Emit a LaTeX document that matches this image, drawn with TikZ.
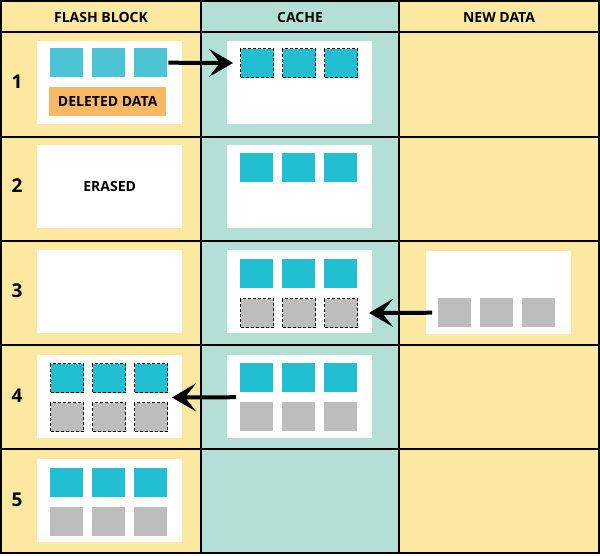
\documentclass[tikz,border=0pt]{standalone}
\usepackage{fontspec}
\setmainfont{Open Sans}
\usetikzlibrary{arrows.meta,positioning,calc}
\definecolor{flashbg}{HTML}{FCE8A0}
\definecolor{cachebg}{HTML}{B3DFD7}
\definecolor{oldblue}{HTML}{4DC3D6}
\definecolor{datablue}{HTML}{22BFD3}
\definecolor{datagray}{HTML}{BDBDBE}
\definecolor{delorange}{HTML}{F9B866}

\begin{document}
\begin{tikzpicture}[x=1pt,y=-1pt,
		block/.style={fill=white,anchor=north west,minimum width=145pt,minimum height=83pt,inner sep=0pt},
		sq/.style={anchor=north west,minimum width=33pt,minimum height=29pt,inner sep=0pt},
		bsq/.style={sq,fill=datablue},
		osq/.style={sq,fill=oldblue},
		gsq/.style={sq,fill=datagray},
		dsq/.style={draw=black,line width=1pt,dash pattern=on 3pt off 2pt},
		head/.style={font=\bfseries\fontsize{14}{16}\selectfont},
		num/.style={font=\bfseries\fontsize{19}{21}\selectfont},
		grid/.style={line width=2.5pt},
		arr/.style={line width=4pt,-{Stealth[length=24pt,width=28pt,inset=11pt]}}]
		\useasboundingbox (0,0) rectangle (600,555);
		% columns
		\fill[flashbg] (1,1) rectangle (201,553);
		\fill[cachebg] (201,1) rectangle (399,553);
		\fill[flashbg] (399,1) rectangle (599,553);
		\draw[grid] (1,1) rectangle (599,553);
		\draw[grid] (201,1)--(201,553);
		\draw[grid] (399,1)--(399,553);
		\draw[grid] (1,32)--(599,32);
		\draw[grid] (1,137)--(599,137);
		\draw[grid] (1,241)--(599,241);
		\draw[grid] (1,345)--(599,345);
		\draw[grid] (1,449)--(599,449);
		% headers
		\node[head] (hflash) at (101,17) {FLASH BLOCK};
		\node[head] (hcache) at (300,17) {CACHE};
		\node[head] (hnew) at (499,17) {NEW DATA};
		\node[num] (r1) at (17,82) {1};
		\node[num] (r2) at (17,186) {2};
		\node[num] (r3) at (17,291) {3};
		\node[num] (r4) at (17,396) {4};
		\node[num] (r5) at (17,500) {5};
		% row 1
		\node[block] (fb1) at (37,41) {};
		\node[osq] (f1a) at (50,48) {};
		\node[osq] (f1b) at (92,48) {};
		\node[osq] (f1c) at (134,48) {};
		\node[anchor=north west,fill=delorange,minimum width=117pt,minimum height=29pt,inner sep=0pt,head] (del) at (49,87) {DELETED DATA};
		\node[block] (cb1) at (227,41) {};
		\node[bsq,dsq] (c1a) at (240,48) {};
		\node[bsq,dsq] (c1b) at (282,48) {};
		\node[bsq,dsq] (c1c) at (324,48) {};
		% row 2
		\node[block,head] (fb2) at (37,145) {ERASED};
		\node[block] (cb2) at (227,145) {};
		\node[bsq] (c2a) at (240,153) {};
		\node[bsq] (c2b) at (282,153) {};
		\node[bsq] (c2c) at (324,153) {};
		% row 3
		\node[block] (fb3) at (37,250) {};
		\node[block] (cb3) at (227,250) {};
		\node[bsq] (c3a) at (240,259) {};
		\node[bsq] (c3b) at (282,259) {};
		\node[bsq] (c3c) at (324,259) {};
		\node[gsq,dsq] (c3d) at (240,298) {};
		\node[gsq,dsq] (c3e) at (282,298) {};
		\node[gsq,dsq] (c3f) at (324,298) {};
		\node[block] (nb3) at (426,251) {};
		\node[gsq] (n3a) at (438,298) {};
		\node[gsq] (n3b) at (480,298) {};
		\node[gsq] (n3c) at (522,298) {};
		% row 4
		\node[block] (fb4) at (37,355) {};
		\node[bsq,dsq] (f4a) at (50,363) {};
		\node[bsq,dsq] (f4b) at (92,363) {};
		\node[bsq,dsq] (f4c) at (134,363) {};
		\node[gsq,dsq] (f4d) at (50,402) {};
		\node[gsq,dsq] (f4e) at (92,402) {};
		\node[gsq,dsq] (f4f) at (134,402) {};
		\node[block] (cb4) at (227,355) {};
		\node[bsq] (c4a) at (240,363) {};
		\node[bsq] (c4b) at (282,363) {};
		\node[bsq] (c4c) at (324,363) {};
		\node[gsq] (c4d) at (240,402) {};
		\node[gsq] (c4e) at (282,402) {};
		\node[gsq] (c4f) at (324,402) {};
		% row 5
		\node[block] (fb5) at (37,459) {};
		\node[bsq] (f5a) at (50,468) {};
		\node[bsq] (f5b) at (92,468) {};
		\node[bsq] (f5c) at (134,468) {};
		\node[gsq] (f5d) at (50,507) {};
		\node[gsq] (f5e) at (92,507) {};
		\node[gsq] (f5f) at (134,507) {};
		% arrows
		\coordinate (c4m) at ($(c4a.south west)!0.5!(c4d.north west)$);
		\coordinate (f4m) at ($(f4c.south east)!0.5!(f4f.north east)$);
		\draw[arr,shorten <=1pt,shorten >=7pt] (f1c.east)--(c1a.west);
		\draw[arr,shorten <=6pt,shorten >=11pt] (n3a.west)--(c3f.east);
		\draw[arr,shorten <=4pt,shorten >=4pt] (c4m)--(f4m);
\end{tikzpicture}
\end{document}
